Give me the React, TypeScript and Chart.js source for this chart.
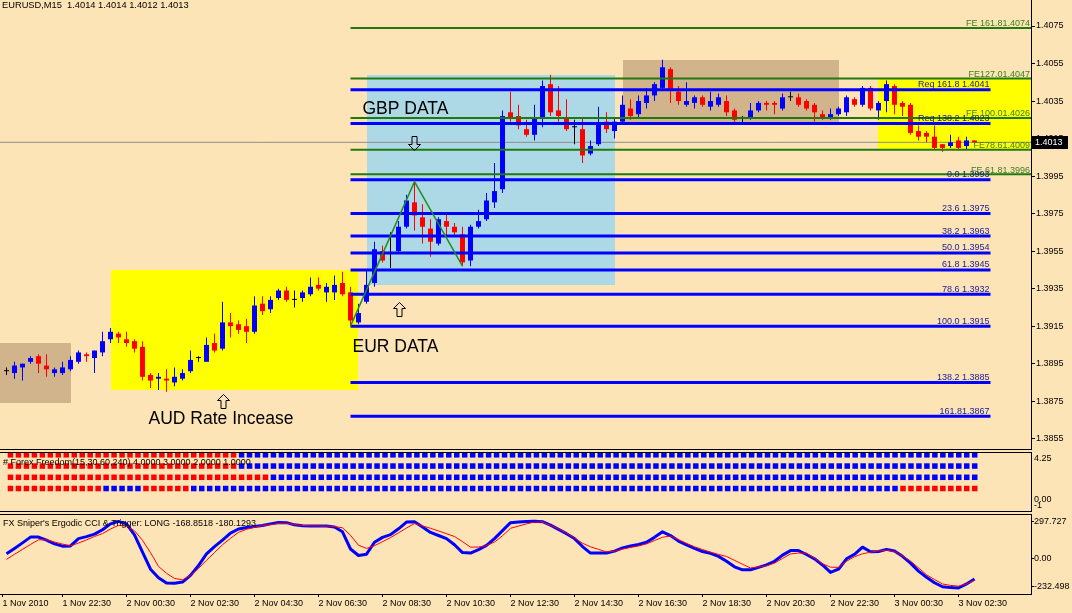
import React, { useEffect, useRef } from 'react';
import { Chart, registerables } from 'chart.js';

Chart.register(...registerables);

// ---------------- layout / style constants ----------------
const W = 1072;
const H = 613;
const BG = '#FCE4B6';
const UP = '#0000FF';
const DOWN = '#FF0000';
const FLAT = '#000000';
const FONT = "'Liberation Sans', Arial, Helvetica, sans-serif";
const AXIS_W = 41;
const X_MIN = -0.8125;
const X_MAX = 128.0625;
const PRICE_MIN = 1.384952;
const PRICE_MAX = 1.408886;
const ERG_MIN = -292.05;
const ERG_MAX = 360.54;

// ---------------- data ----------------
const symbolTitle = 'EURUSD,M15  1.4014 1.4014 1.4012 1.4013';
const currentPrice = 1.4013;

const opens = [
  1.3891, 1.3890, 1.3893, 1.3896, 1.3899, 1.3894, 1.3890, 1.3890, 1.3892, 1.3896,
  1.3900, 1.3898, 1.3901, 1.3908, 1.3911, 1.3908, 1.3907, 1.3904, 1.3889, 1.3887,
  1.3887, 1.3885, 1.3887, 1.3891, 1.3898, 1.3896, 1.3906, 1.3903, 1.3917, 1.3916,
  1.3915, 1.3912, 1.3927, 1.3924, 1.3930, 1.3934, 1.3929, 1.3930, 1.3932, 1.3937,
  1.3933, 1.3933, 1.3938, 1.3933, 1.3917, 1.3928, 1.3938, 1.3955, 1.3963, 1.3955,
  1.3968, 1.3981, 1.3973, 1.3967, 1.3959, 1.3971, 1.3968, 1.3964, 1.3950, 1.3968,
  1.3972, 1.3981, 1.3988, 1.4029, 1.4027, 1.4020, 1.4017, 1.4026, 1.4044, 1.4030,
  1.4026, 1.4021, 1.4020, 1.4007, 1.4012, 1.4024, 1.4019, 1.4024, 1.4031, 1.4028,
  1.4034, 1.4038, 1.4042, 1.4052, 1.4040, 1.4033, 1.4034, 1.4037, 1.4032, 1.4033,
  1.4035, 1.4030, 1.4026, 1.4026, 1.4030, 1.4034, 1.4034, 1.4031, 1.4037, 1.4037,
  1.4035, 1.4033, 1.4028, 1.4026, 1.4028, 1.4029, 1.4036, 1.4033, 1.4042, 1.4030,
  1.4035, 1.4043, 1.4034, 1.4033, 1.4019, 1.4018, 1.4016, 1.4012, 1.4011, 1.4014,
  1.4011, 1.4014,
];
const highs = [
  1.3893, 1.3896, 1.3895, 1.3899, 1.3900, 1.3900, 1.3893, 1.3896, 1.3899, 1.3902,
  1.3901, 1.3902, 1.3912, 1.3914, 1.3912, 1.3912, 1.3908, 1.3907, 1.3890, 1.3890,
  1.3892, 1.3893, 1.3892, 1.3902, 1.3899, 1.3909, 1.3911, 1.3928, 1.3922, 1.3918,
  1.3919, 1.3931, 1.3931, 1.3931, 1.3935, 1.3936, 1.3934, 1.3934, 1.3941, 1.3941,
  1.3938, 1.3942, 1.3944, 1.3936, 1.3927, 1.3945, 1.3960, 1.3958, 1.3965, 1.3971,
  1.3985, 1.3992, 1.3980, 1.3972, 1.3973, 1.3975, 1.3970, 1.3968, 1.3969, 1.3977,
  1.3986, 1.4002, 1.4030, 1.4040, 1.4033, 1.4025, 1.4033, 1.4046, 1.4049, 1.4043,
  1.4036, 1.4025, 1.4026, 1.4014, 1.4032, 1.4029, 1.4026, 1.4038, 1.4036, 1.4038,
  1.4042, 1.4045, 1.4057, 1.4053, 1.4043, 1.4045, 1.4038, 1.4038, 1.4040, 1.4039,
  1.4038, 1.4031, 1.4027, 1.4034, 1.4035, 1.4035, 1.4035, 1.4039, 1.4040, 1.4039,
  1.4036, 1.4034, 1.4030, 1.4031, 1.4032, 1.4038, 1.4037, 1.4043, 1.4043, 1.4035,
  1.4046, 1.4044, 1.4035, 1.4034, 1.4022, 1.4019, 1.4022, 1.4012, 1.4017, 1.4016,
  1.4016, 1.4014,
];
const lows = [
  1.3889, 1.3887, 1.3886, 1.3895, 1.3890, 1.3888, 1.3888, 1.3889, 1.3891, 1.3895,
  1.3896, 1.3890, 1.3899, 1.3906, 1.3906, 1.3904, 1.3901, 1.3886, 1.3882, 1.3881,
  1.3880, 1.3883, 1.3886, 1.3890, 1.3896, 1.3896, 1.3901, 1.3902, 1.3909, 1.3911,
  1.3906, 1.3911, 1.3921, 1.3922, 1.3929, 1.3928, 1.3925, 1.3928, 1.3931, 1.3934,
  1.3928, 1.3929, 1.3931, 1.3915, 1.3916, 1.3927, 1.3936, 1.3949, 1.3946, 1.3954,
  1.3967, 1.3966, 1.3959, 1.3952, 1.3958, 1.3963, 1.3963, 1.3947, 1.3947, 1.3967,
  1.3971, 1.3978, 1.3986, 1.4024, 1.4020, 1.4016, 1.4014, 1.4021, 1.4027, 1.4024,
  1.4019, 1.4012, 1.4002, 1.4006, 1.4011, 1.4018, 1.4015, 1.4023, 1.4025, 1.4026,
  1.4031, 1.4035, 1.4041, 1.4034, 1.4033, 1.4032, 1.4031, 1.4032, 1.4030, 1.4032,
  1.4027, 1.4023, 1.4023, 1.4025, 1.4029, 1.4030, 1.4028, 1.4030, 1.4035, 1.4032,
  1.4030, 1.4024, 1.4025, 1.4025, 1.4027, 1.4027, 1.4032, 1.4032, 1.4030, 1.4025,
  1.4029, 1.4028, 1.4027, 1.4017, 1.4014, 1.4013, 1.4009, 1.4008, 1.4010, 1.4009,
  1.4009, 1.4012,
];
const closes = [
  1.3891, 1.3894, 1.3895, 1.3898, 1.3895, 1.3892, 1.3892, 1.3893, 1.3897, 1.3901,
  1.3899, 1.3902, 1.3907, 1.3912, 1.3909, 1.3906, 1.3903, 1.3888, 1.3886, 1.3888,
  1.3886, 1.3888, 1.3890, 1.3897, 1.3898, 1.3905, 1.3902, 1.3917, 1.3915, 1.3913,
  1.3912, 1.3926, 1.3923, 1.3929, 1.3934, 1.3929, 1.3929, 1.3933, 1.3936, 1.3935,
  1.3936, 1.3937, 1.3932, 1.3918, 1.3922, 1.3937, 1.3956, 1.3950, 1.3963, 1.3968,
  1.3982, 1.3974, 1.3968, 1.3960, 1.3972, 1.3968, 1.3965, 1.3949, 1.3968, 1.3971,
  1.3982, 1.3987, 1.4027, 1.4026, 1.4022, 1.4017, 1.4026, 1.4043, 1.4029, 1.4027,
  1.4020, 1.4021, 1.4006, 1.4011, 1.4023, 1.4020, 1.4024, 1.4033, 1.4027, 1.4035,
  1.4038, 1.4044, 1.4053, 1.4041, 1.4035, 1.4035, 1.4037, 1.4033, 1.4035, 1.4037,
  1.4029, 1.4025, 1.4026, 1.4030, 1.4034, 1.4033, 1.4033, 1.4037, 1.4037, 1.4033,
  1.4031, 1.4029, 1.4026, 1.4028, 1.4031, 1.4037, 1.4033, 1.4042, 1.4031, 1.4034,
  1.4044, 1.4033, 1.4032, 1.4018, 1.4016, 1.4016, 1.4010, 1.4010, 1.4013, 1.4010,
  1.4014, 1.4013,
];

const priceTicks = [1.4075, 1.4055, 1.4035, 1.4015, 1.3995, 1.3975, 1.3955, 1.3935, 1.3915, 1.3895, 1.3875, 1.3855];

const timeTickBars = [-0.5, 7, 15, 23, 31, 39, 47, 55, 63, 71, 79, 87, 95, 103, 111, 119];
const timeTickLabels = [
  '1 Nov 2010', '1 Nov 22:30', '2 Nov 00:30', '2 Nov 02:30', '2 Nov 04:30', '2 Nov 06:30',
  '2 Nov 08:30', '2 Nov 10:30', '2 Nov 12:30', '2 Nov 14:30', '2 Nov 16:30', '2 Nov 18:30',
  '2 Nov 20:30', '2 Nov 22:30', '3 Nov 00:30', '3 Nov 02:30',
];

// Fibonacci retracement / expansion levels
const fibLevels = [1.4041, 1.4023, 1.3993, 1.3975, 1.3963, 1.3954, 1.3945, 1.3932, 1.3915, 1.3885, 1.3867];
const fibLabels = [
  'Req 161.8 1.4041', 'Req 138.2 1.4023', '0.0 1.3993', '23.6 1.3975', '38.2 1.3963', '50.0 1.3954',
  '61.8 1.3945', '78.6 1.3932', '100.0 1.3915', '138.2 1.3885', '161.81.3867',
];
const fibStartBar = 43;
const fibEndBar = 123;
const feLevels = [1.4074, 1.4047, 1.4026, 1.4009, 1.3996];
const feLabels = ['FE 161.81.4074', 'FE127.01.4047', 'FE 100.01.4026', 'FE78.61.4009', 'FE 61.81.3996'];
const feStartBar = 43;
const feEndBar = 130;

// ZigZag
const zigzagBars = [43, 51, 57];
const zigzagPrices = [1.3915, 1.3992, 1.3947];

// rectangles (bar index / price)
const boxStartBars = [-1, 13, 45, 77, 108.9];
const boxEndBars = [8, 43.9, 76, 104, 130];
const boxTopPrices = [1.3906, 1.3945, 1.4049, 1.4057, 1.4047];
const boxBottomPrices = [1.3874, 1.3881, 1.3937, 1.4024, 1.4009];
const boxColors = ['#D2B48C', '#FFFF00', '#ADD8E6', '#D2B48C', '#FFFF00'];

// text notes
const noteTexts = ['GBP DATA', 'EUR DATA', 'AUD Rate Incease'];
const noteBars = [44.5, 43.25, 17.75];
const notePrices = [1.40304, 1.39039, 1.38652];

// hollow arrows
const arrowDirs = ['down', 'up', 'up'];
const arrowBars = [50.9, 49, 27.06];
const arrowPrices = [1.40126, 1.39241, 1.38751];

// Forex Freedom indicator (runs of colours per row, left to right)
const ffTitle = '# Forex Freedom(15,30,60,240) 4.0000 3.0000 2.0000 1.0000';
const ffRowLevels = [4, 3, 2, 1];
const ffRowRuns: [string, number][][] = [
  [['R', 29], ['B', 93]],
  [['R', 29], ['B', 93]],
  [['R', 33], ['B', 89]],
  [['R', 12], ['B', 5], ['R', 6], ['B', 89], ['R', 10]],
];

// Ergodic CCI & trigger
const ergTitle = "FX Sniper's Ergodic CCI & Trigger: LONG -168.8518 -180.1293";
const ergodic = [
  37, 80, 125, 172, 172, 148, 117, 98, 100, 160,
  176, 196, 232, 280, 300, 280, 190, 50, -90, -160,
  -203, -205, -195, -140, -60, 35, 95, 148, 205, 238,
  250, 258, 266, 280, 292, 290, 272, 264, 263, 263,
  263, 255, 215, 75, 22, 33, 130, 170, 192, 240,
  295, 297, 255, 210, 185, 160, 110, 46, 42, 70,
  105, 160, 225, 290, 295, 300, 302, 298, 270, 235,
  200, 160, 95, 42, 42, 42, 58, 84, 100, 112,
  130, 170, 215, 185, 140, 108, 80, 54, 40, 15,
  -25, -70, -95, -95, -75, -55, -25, 25, 62, 62,
  30, -5, -55, -116, -90, -5, 32, 90, 52, 55,
  72, 58, 15, -40, -105, -155, -200, -233, -240, -243,
  -210, -169,
];
const trigger = [
  -10, 32, 72, 112, 150, 150, 132, 115, 100, 124,
  149, 177, 201, 238, 268, 261, 224, 146, 46, -67,
  -123, -165, -176, -141, -84, -17, 46, 110, 162, 211,
  236, 252, 266, 275, 283, 286, 275, 267, 264, 263,
  262, 258, 248, 187, 106, 80, 102, 135, 168, 207,
  246, 283, 263, 244, 222, 200, 177, 135, 90, 91,
  103, 132, 183, 244, 262, 280, 295, 295, 268, 240,
  205, 165, 122, 93, 72, 51, 58, 74, 88, 100,
  117, 144, 171, 181, 151, 121, 93, 71, 49, 31,
  14, -17, -49, -80, -71, -61, -40, -2, 35, 42,
  41, 0, -46, -73, -75, -25, 12, 36, 49, 59,
  66, 55, 19, -23, -79, -135, -174, -210, -222, -228,
  -210, -180,
];
const ergTickValues = [297.727, 0, -232.498];
const ergTickLabels = ['297.727', '0.00', '-232.498'];

// ---------------- helpers ----------------
const candleColors = opens.map((o, i) => (closes[i] > o ? UP : closes[i] < o ? DOWN : FLAT));
const ffRowColors = ffRowRuns.map((runs) =>
  runs.flatMap(([c, n]) => Array.from({ length: n }, () => (c === 'R' ? DOWN : UP)))
);

function drawHollowArrow(ctx: CanvasRenderingContext2D, cxRaw: number, cyRaw: number, dir: string) {
  const cx = Math.round(cxRaw) + 0.5;
  const cy = Math.round(cyRaw) + 0.5;
  const w = 12, h = 14, sw = 5, hh = 6;
  const s = dir === 'up' ? 1 : -1;
  const tip = cy - (s * h) / 2;
  const base = cy + (s * h) / 2;
  const neck = tip + s * hh;
  ctx.beginPath();
  ctx.moveTo(cx, tip);
  ctx.lineTo(cx + w / 2, neck);
  ctx.lineTo(cx + sw / 2, neck);
  ctx.lineTo(cx + sw / 2, base);
  ctx.lineTo(cx - sw / 2, base);
  ctx.lineTo(cx - sw / 2, neck);
  ctx.lineTo(cx - w / 2, neck);
  ctx.closePath();
  ctx.lineWidth = 1;
  ctx.strokeStyle = '#000';
  ctx.stroke();
}

const baseOpts = {
  responsive: false,
  animation: false,
  devicePixelRatio: 1,
  events: [],
  plugins: { legend: { display: false }, tooltip: { enabled: false } },
};

const fixRightAxis = (s: any) => {
  s.width = AXIS_W;
  s.paddingTop = 0;
  s.paddingBottom = 0;
};

// ---------------- main price chart ----------------
const mainOverlay = {
  id: 'mainOverlay',
  beforeDatasetsDraw(chart: any) {
    const { ctx, chartArea: a, scales } = chart;
    const x = scales.x, y = scales.y;
    ctx.save();
    ctx.beginPath();
    ctx.rect(a.left, a.top, a.right - a.left, a.bottom - a.top);
    ctx.clip();
    boxStartBars.forEach((b, i) => {
      const x0 = Math.round(x.getPixelForValue(b));
      const x1 = Math.round(x.getPixelForValue(boxEndBars[i]));
      const y0 = Math.round(y.getPixelForValue(boxTopPrices[i]));
      const y1 = Math.round(y.getPixelForValue(boxBottomPrices[i]));
      ctx.fillStyle = boxColors[i];
      ctx.fillRect(x0, y0, x1 - x0, y1 - y0);
    });
    ctx.restore();
  },
  afterDatasetsDraw(chart: any) {
    const { ctx, chartArea: a, scales } = chart;
    const x = scales.x, y = scales.y;
    ctx.save();
    // fib labels
    ctx.font = `9px ${FONT}`;
    ctx.textAlign = 'right';
    ctx.textBaseline = 'alphabetic';
    ctx.fillStyle = '#1A1A96';
    const fx = x.getPixelForValue(fibEndBar) - 1;
    fibLevels.forEach((lv, i) => ctx.fillText(fibLabels[i], fx, y.getPixelForValue(lv) - 2.5));
    ctx.fillStyle = '#3C8020';
    feLevels.forEach((lv, i) => ctx.fillText(feLabels[i], a.right - 1, y.getPixelForValue(lv) - 1.5));
    // notes
    ctx.font = `17.5px ${FONT}`;
    ctx.textAlign = 'left';
    ctx.textBaseline = 'middle';
    ctx.fillStyle = '#000';
    noteTexts.forEach((t, i) => ctx.fillText(t, x.getPixelForValue(noteBars[i]), y.getPixelForValue(notePrices[i])));
    // arrows
    arrowDirs.forEach((d, i) => drawHollowArrow(ctx, x.getPixelForValue(arrowBars[i]), y.getPixelForValue(arrowPrices[i]), d));
    // bottom frame
    ctx.fillStyle = '#000';
    ctx.fillRect(0, a.bottom, a.right + 1, 1);
    // header
    ctx.font = `9.3px ${FONT}`;
    ctx.textAlign = 'left';
    ctx.textBaseline = 'top';
    ctx.fillText(symbolTitle, 2, 1);
    ctx.restore();
  },
  afterDraw(chart: any) {
    const { ctx, chartArea: a, scales } = chart;
    const py = Math.round(scales.y.getPixelForValue(currentPrice));
    ctx.save();
    ctx.fillStyle = '#000';
    ctx.fillRect(a.right + 1, py - 6, 36, 13);
    ctx.fillStyle = '#fff';
    ctx.font = `9px ${FONT}`;
    ctx.textAlign = 'left';
    ctx.textBaseline = 'middle';
    ctx.fillText(currentPrice.toFixed(4), a.right + 4, py + 0.5);
    ctx.restore();
  },
};

function mainConfig(): any {
  const idx = opens.map((_, i) => i);
  const lineDs = (pts: { x: number; y: number }[], color: string, width: number, order: number) => ({
    type: 'line',
    data: pts,
    borderColor: color,
    borderWidth: width,
    pointRadius: 0,
    tension: 0,
    fill: false,
    order,
  });
  const datasets: any[] = [
    lineDs([{ x: -2, y: currentPrice }, { x: 131, y: currentPrice }], '#8C8C8C', 1, 10),
    {
      type: 'bar',
      data: idx.map((i) => ({ x: i, y: [lows[i], highs[i]] })),
      backgroundColor: candleColors,
      barThickness: 1,
      grouped: false,
      inflateAmount: 0,
      borderWidth: 0,
      order: 9,
    },
    {
      type: 'bar',
      data: idx.map((i) => ({ x: i, y: [opens[i], closes[i]] })),
      backgroundColor: candleColors,
      barThickness: 5,
      grouped: false,
      inflateAmount: 0,
      borderWidth: 0,
      minBarLength: 1,
      order: 8,
    },
    ...feLevels.map((lv) => lineDs([{ x: feStartBar, y: lv }, { x: feEndBar, y: lv }], '#207A10', 2, 6)),
    ...fibLevels.map((lv) => lineDs([{ x: fibStartBar, y: lv }, { x: fibEndBar, y: lv }], UP, 3, 5)),
    lineDs(zigzagBars.map((b, i) => ({ x: b, y: zigzagPrices[i] })), '#228B22', 1.5, 4),
  ];
  return {
    type: 'bar',
    data: { datasets },
    options: {
      ...baseOpts,
      layout: { padding: { left: 0, right: 0, top: 0, bottom: 1 } },
      scales: {
        x: { type: 'linear', min: X_MIN, max: X_MAX, display: false, offset: false, grid: { display: false, offset: false } },
        y: {
          type: 'linear',
          position: 'right',
          min: PRICE_MIN,
          max: PRICE_MAX,
          grid: { drawOnChartArea: false, drawTicks: true, tickLength: 4, tickColor: '#000', color: '#000' },
          border: { display: true, color: '#000', width: 1 },
          ticks: { autoSkip: false, padding: 1, color: '#000', font: { family: FONT, size: 9 }, callback: (v: any) => Number(v).toFixed(4) },
          afterBuildTicks: (s: any) => { s.ticks = priceTicks.map((v) => ({ value: v })); },
          afterFit: fixRightAxis,
        },
      },
    },
    plugins: [mainOverlay],
  };
}

// ---------------- Forex Freedom panel ----------------
const ffOverlay = {
  id: 'ffOverlay',
  afterDatasetsDraw(chart: any) {
    const { ctx, chartArea: a } = chart;
    ctx.save();
    ctx.fillStyle = '#000';
    ctx.fillRect(0, a.top, a.right + 1, 1);
    ctx.fillRect(0, a.bottom, a.right + 1, 1);
    ctx.font = `9px ${FONT}`;
    ctx.textAlign = 'left';
    ctx.textBaseline = 'middle';
    ctx.fillText(ffTitle, 3, a.top + 10.5);
    ctx.restore();
  },
  afterDraw(chart: any) {
    const { ctx, chartArea: a, scales } = chart;
    const z = scales.y.getPixelForValue(0);
    ctx.save();
    ctx.fillStyle = '#000';
    ctx.font = `9px ${FONT}`;
    ctx.textAlign = 'left';
    ctx.textBaseline = 'middle';
    ctx.fillText('4.25', a.right + 3, a.top + 6.5);
    ctx.fillText('0.00', a.right + 3, z);
    ctx.fillText('-1', a.right + 3, z + 6);
    ctx.restore();
  },
};

function ffConfig(): any {
  return {
    type: 'line',
    data: {
      datasets: ffRowLevels.map((lv, r) => ({
        data: ffRowColors[r].map((_, i) => ({ x: i, y: lv })),
        showLine: false,
        pointStyle: 'rect',
        pointRadius: 3.9,
        pointBorderWidth: 0,
        pointBackgroundColor: ffRowColors[r],
        clip: 6,
      })),
    },
    options: {
      ...baseOpts,
      layout: { padding: { left: 0, right: 0, top: 7, bottom: 6 } },
      scales: {
        x: { type: 'linear', min: X_MIN, max: X_MAX, display: false },
        y: {
          type: 'linear',
          position: 'right',
          min: -1,
          max: 4.25,
          grid: { display: false },
          border: { display: true, color: '#000', width: 1 },
          ticks: { display: false },
          afterFit: fixRightAxis,
        },
      },
    },
    plugins: [ffOverlay],
  };
}

// ---------------- Ergodic panel ----------------
const ergOverlay = {
  id: 'ergOverlay',
  afterDatasetsDraw(chart: any) {
    const { ctx, chartArea: a } = chart;
    ctx.save();
    ctx.fillStyle = '#000';
    ctx.fillRect(0, a.top, a.right + 1, 1);
    ctx.font = `9px ${FONT}`;
    ctx.textAlign = 'left';
    ctx.textBaseline = 'middle';
    ctx.fillText(ergTitle, 3, a.top + 10);
    ctx.restore();
  },
};

function ergConfig(): any {
  return {
    type: 'line',
    data: {
      datasets: [
        { data: ergodic.map((v, i) => ({ x: i, y: v })), borderColor: UP, borderWidth: 3, pointRadius: 0, tension: 0, fill: false, order: 1, borderJoinStyle: 'round' },
        { data: trigger.map((v, i) => ({ x: i, y: v })), borderColor: DOWN, borderWidth: 1, pointRadius: 0, tension: 0, fill: false, order: 0 },
      ],
    },
    options: {
      ...baseOpts,
      layout: { padding: { left: 0, right: 0, top: 8, bottom: 0 } },
      scales: {
        x: {
          type: 'linear',
          position: 'bottom',
          min: X_MIN,
          max: X_MAX,
          offset: false,
          grid: { drawOnChartArea: false, drawTicks: true, tickLength: 3, tickColor: '#000', color: '#000' },
          border: { display: true, color: '#000', width: 1 },
          ticks: {
            autoSkip: false,
            maxRotation: 0,
            minRotation: 0,
            align: 'start',
            padding: 1,
            color: '#000',
            font: { family: FONT, size: 9 },
            callback: (_v: any, i: number) => timeTickLabels[i],
          },
          afterBuildTicks: (s: any) => { s.ticks = timeTickBars.map((v) => ({ value: v })); },
          afterFit: (s: any) => { s.height = 19; s.paddingLeft = 0; s.paddingRight = 0; },
        },
        y: {
          type: 'linear',
          position: 'right',
          min: ERG_MIN,
          max: ERG_MAX,
          grid: { drawOnChartArea: false, drawTicks: true, tickLength: 3, tickColor: '#000', color: '#000' },
          border: { display: true, color: '#000', width: 1 },
          ticks: { autoSkip: false, padding: 0, color: '#000', font: { family: FONT, size: 9 }, callback: (_v: any, i: number) => ergTickLabels[i] },
          afterBuildTicks: (s: any) => { s.ticks = ergTickValues.map((v) => ({ value: v })); },
          afterFit: fixRightAxis,
        },
      },
    },
    plugins: [ergOverlay],
  };
}

// ---------------- component ----------------
export default function App() {
  const mainRef = useRef<HTMLCanvasElement | null>(null);
  const ffRef = useRef<HTMLCanvasElement | null>(null);
  const ergRef = useRef<HTMLCanvasElement | null>(null);

  useEffect(() => {
    const charts = [
      new Chart(mainRef.current as HTMLCanvasElement, mainConfig()),
      new Chart(ffRef.current as HTMLCanvasElement, ffConfig()),
      new Chart(ergRef.current as HTMLCanvasElement, ergConfig()),
    ];
    return () => charts.forEach((c) => c.destroy());
  }, []);

  return (
    <div style={{ position: 'absolute', left: 0, top: 0, width: W, height: H, background: BG, overflow: 'hidden' }}>
      <canvas ref={mainRef} width={W} height={450} style={{ position: 'absolute', left: 0, top: 0, width: W, height: 450 }} />
      <canvas ref={ffRef} width={W} height={72} style={{ position: 'absolute', left: 0, top: 445, width: W, height: 72 }} />
      <canvas ref={ergRef} width={W} height={107} style={{ position: 'absolute', left: 0, top: 506, width: W, height: 107 }} />
    </div>
  );
}
